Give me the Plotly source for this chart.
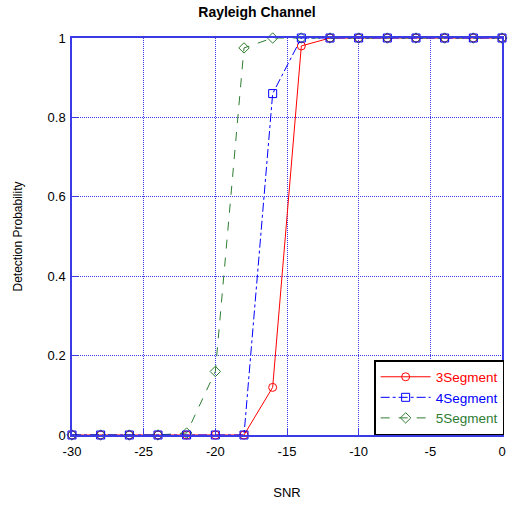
import plotly.graph_objects as go

snr = [-30, -28, -26, -24, -22, -20, -18, -16, -14, -12, -10, -8, -6, -4, -2, 0]
seg3 = [0, 0, 0, 0, 0, 0, 0, 0.12, 0.98, 1, 1, 1, 1, 1, 1, 1]
seg4 = [0, 0, 0, 0, 0, 0, 0, 0.86, 1, 1, 1, 1, 1, 1, 1, 1]
seg5 = [0, 0, 0, 0, 0.005, 0.16, 0.975, 1, 1, 1, 1, 1, 1, 1, 1, 1]
x_ticks = [-30, -25, -20, -15, -10, -5, 0]
x_labels = ["-30", "-25", "-20", "-15", "-10", "-5", "0"]
y_ticks = [0, 0.2, 0.4, 0.6, 0.8, 1]
y_labels = ["0", "0.2", "0.4", "0.6", "0.8", "1"]

series = [
    ("3Segment", seg3, "#ff0000", "solid", "circle-open", 1),
    ("5Segment", seg5, "#2e7d32", "dash", "diamond-open", 3),
    ("4Segment", seg4, "#0000ff", "dashdot", "square-open", 2),
]

axis_col = "#3a3ae6"
fig = go.Figure()
for nm, ys, c, d, s, rank in series:
    fig.add_trace(go.Scatter(
        x=snr, y=ys, mode="lines+markers",
        name=f"<span style='color:{c}'>{nm}</span>",
        line=dict(color=c, width=1, dash=d),
        marker=dict(symbol=s, size=8, color=c, line=dict(color=c, width=1)),
        legendrank=rank, cliponaxis=False))

fig.update_layout(
    width=514, height=506,
    margin=dict(l=72, r=8, t=38, b=71),
    paper_bgcolor="white", plot_bgcolor="white",
    font=dict(family="Liberation Sans, Arial, sans-serif", size=13, color="black"),
    title=dict(text="<b>Rayleigh Channel</b>", x=0.5, xanchor="center", y=0.976, yanchor="middle",
               font=dict(size=14, color="black")),
    showlegend=True,
    legend=dict(x=1.005, xanchor="right", y=0, yanchor="bottom", bgcolor="white",
                bordercolor="black", borderwidth=1.5, font=dict(size=13.5),
                itemwidth=50, tracegroupgap=0),
)
fig.update_xaxes(range=[-30, 0], tickvals=x_ticks, ticktext=x_labels,
                 showgrid=True, gridcolor=axis_col, griddash="1px,1px", gridwidth=1,
                 showline=True, linecolor=axis_col, linewidth=1.5, mirror=True,
                 ticks="inside", tickcolor=axis_col, ticklen=7, zeroline=False,
                 ticklabelstandoff=4,
                 title=dict(text="SNR", standoff=30, font=dict(size=13)))
fig.update_yaxes(range=[0, 1], tickvals=y_ticks, ticktext=y_labels,
                 showgrid=True, gridcolor=axis_col, griddash="1px,1px", gridwidth=1,
                 showline=True, linecolor=axis_col, linewidth=1.5, mirror=True,
                 ticks="inside", tickcolor=axis_col, ticklen=7, zeroline=False,
                 ticklabelstandoff=2,
                 title=dict(text="Detection Probability", standoff=22, font=dict(size=12)))
fig.write_html("out.html")
